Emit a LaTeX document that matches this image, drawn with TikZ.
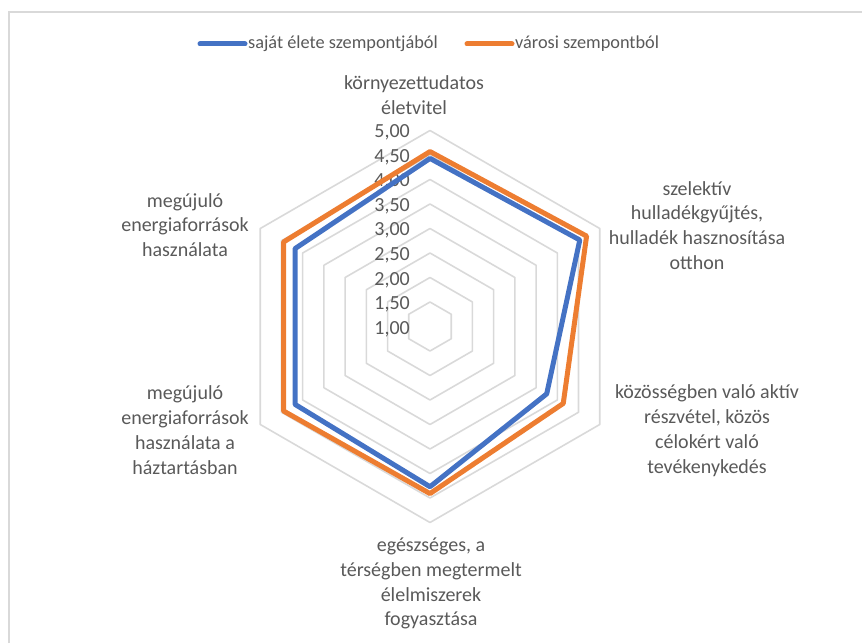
\documentclass[tikz,border=0pt]{standalone}
\usepackage{fontspec}
\setmainfont{Carlito}
\usepackage{xcolor}
\usetikzlibrary{positioning}

\definecolor{sajat}{HTML}{4472C4}
\definecolor{varosi}{HTML}{ED7D31}
\definecolor{racs}{HTML}{D9D9D9}
\definecolor{szoveg}{HTML}{595959}

\tikzset{
  felirat/.style={font=\fontsize{20}{24.8}\selectfont, text=szoveg, align=center, inner sep=0pt},
  jelmagyarazat/.style={font=\fontsize{18.3}{22}\selectfont, text=szoveg, anchor=west, inner sep=0pt},
  skala/.style={font=\fontsize{20}{24.6}\selectfont, text=szoveg, anchor=east, inner sep=0pt},
  racsvonal/.style={draw=racs, line width=1.6pt, line join=round},
  adatvonal/.style={line width=5pt, line join=round, line cap=round}
}

\begin{document}
\begin{tikzpicture}[x=1pt,y=1pt]
  \def\R{49}
  \useasboundingbox (0,0) rectangle (862,643);

  % frame
  \draw[racs, line width=2pt] (8.5,0) -- (8.5,631) -- (862,631);

  \coordinate (c) at (430,316.5);

  % grid hexagons 1,50 ... 5,00
  \foreach \s in {1,...,8}
    \draw[racsvonal] ([shift={(90:\s*\R/2)}]c)
      \foreach \a in {30,-30,-90,-150,-210} { -- ([shift={(\a:\s*\R/2)}]c) } -- cycle;

  % scale labels
  \foreach \t [count=\k from 0] in {{1,00},{1,50},{2,00},{2,50},{3,00},{3,50},{4,00},{4,50},{5,00}}
    \node[skala] (sk\k) at (410,{314+\k*24.6}) {\t};

  % data points
  \foreach \v [count=\i] in {4.43,4.53,3.75,4.27,4.18,4.18}
    \coordinate (s\i) at ([shift={({90-60*(\i-1)}:{(\v-1)*\R})}]c);
  \foreach \v [count=\i] in {4.57,4.69,4.14,4.41,4.45,4.45}
    \coordinate (v\i) at ([shift={({90-60*(\i-1)}:{(\v-1)*\R})}]c);

  \draw[adatvonal, varosi] (v1) -- (v2) -- (v3) -- (v4) -- (v5) -- (v6) -- cycle;
  \draw[adatvonal, sajat] (s1) -- (s2) -- (s3) -- (s4) -- (s5) -- (s6) -- cycle;

  % axis labels
  \node[felirat] (kornyezet) at (414,547.5) {környezettudatos\\életvitel};
  \node[felirat] (szelektiv) at (697,417.5) {szelektív\\hulladékgyűjtés,\\hulladék hasznosítása\\otthon};
  \node[felirat] (kozosseg) at (707,212.5) {közösségben való aktív\\részvétel, közös\\célokért való\\tevékenykedés};
  \node[felirat] (egeszseg) at (431,59.5) {egészséges, a\\térségben megtermelt\\élelmiszerek\\fogyasztása};
  \node[felirat] (haztartas) at (185,213) {megújuló\\energiaforrások\\használata a\\háztartásban};
  \node[felirat] (megujulo) at (185,418) {megújuló\\energiaforrások\\használata};

  % legend
  \node[jelmagyarazat] (legsajat) at (248,599) {saját élete szempontjából};
  \node[jelmagyarazat] (legvarosi) at (515,599) {városi szempontból};
  \draw[adatvonal, sajat] ([xshift=-3pt]legsajat.west) -- ++(-45,0);
  \draw[adatvonal, varosi] ([xshift=-3pt]legvarosi.west) -- ++(-45,0);
\end{tikzpicture}
\end{document}
